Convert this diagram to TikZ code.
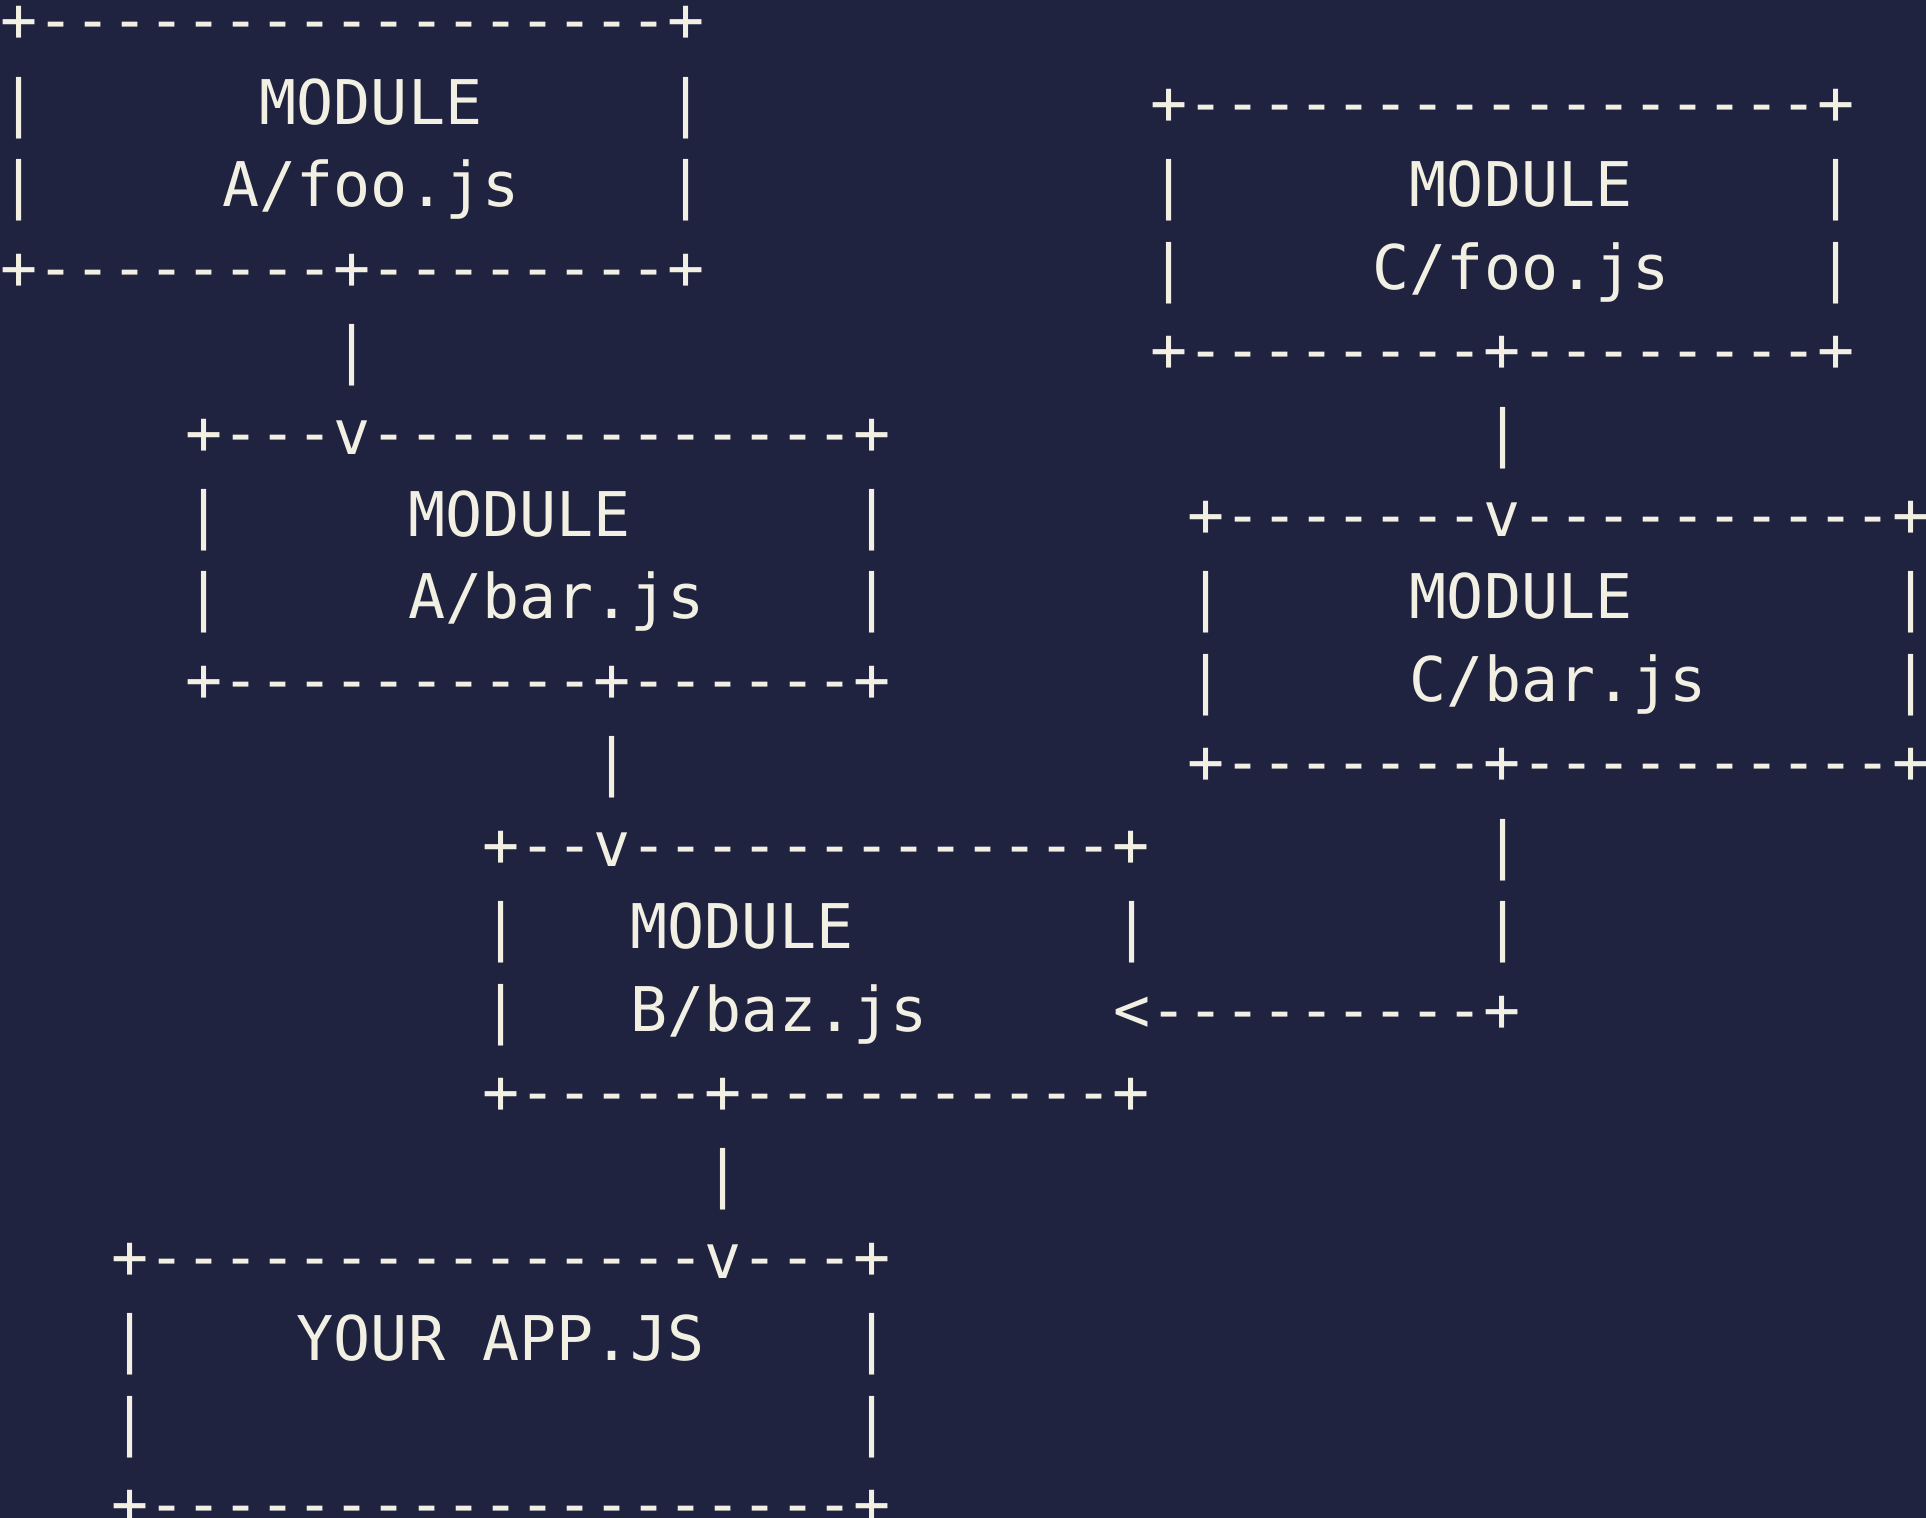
\documentclass[tikz,border=0pt]{standalone}
\usepackage{fontspec}
\newfontfamily\asciifont{DejaVu Sans Mono}[Ligatures=TeXOff]
\definecolor{bgnavy}{HTML}{1F2340}
\definecolor{cream}{HTML}{F2EFE3}
\tikzset{asc/.style={font={\asciifont\fontsize{30.81pt}{36pt}\selectfont},text=cream,inner sep=0pt,outer sep=0pt,anchor=base west}}
\newcommand\seg[4]{\node[asc] (#1) at ({#2*18.55pt},{-20.93pt-#3*41.215pt}) {#4};}
\begin{document}
\begin{tikzpicture}
\useasboundingbox (0,0) rectangle (963pt,-759pt);
\fill[bgnavy] (0,0) rectangle (963pt,-759pt);
% Module A/foo.js
\seg{afooT}{0}{0}{+-----------------+}
\seg{afooL1}{0}{1}{|}
\seg{afooM}{7}{1}{MODULE}
\seg{afooR1}{18}{1}{|}
\seg{afooL2}{0}{2}{|}
\seg{afooN}{6}{2}{A/foo.js}
\seg{afooR2}{18}{2}{|}
\seg{afooB}{0}{3}{+--------+--------+}
\seg{afooV}{9}{4}{|}
% Module C/foo.js
\seg{cfooT}{31}{1}{+-----------------+}
\seg{cfooL1}{31}{2}{|}
\seg{cfooM}{38}{2}{MODULE}
\seg{cfooR1}{49}{2}{|}
\seg{cfooL2}{31}{3}{|}
\seg{cfooN}{37}{3}{C/foo.js}
\seg{cfooR2}{49}{3}{|}
\seg{cfooB}{31}{4}{+--------+--------+}
\seg{cfooV}{40}{5}{|}
% Module A/bar.js
\seg{abarT}{5}{5}{+---v-------------+}
\seg{abarL1}{5}{6}{|}
\seg{abarM}{11}{6}{MODULE}
\seg{abarR1}{23}{6}{|}
\seg{abarL2}{5}{7}{|}
\seg{abarN}{11}{7}{A/bar.js}
\seg{abarR2}{23}{7}{|}
\seg{abarB}{5}{8}{+----------+------+}
\seg{abarV}{16}{9}{|}
% Module C/bar.js
\seg{cbarT}{32}{6}{+-------v----------+}
\seg{cbarL1}{32}{7}{|}
\seg{cbarM}{38}{7}{MODULE}
\seg{cbarR1}{51}{7}{|}
\seg{cbarL2}{32}{8}{|}
\seg{cbarN}{38}{8}{C/bar.js}
\seg{cbarR2}{51}{8}{|}
\seg{cbarB}{32}{9}{+-------+----------+}
\seg{cbarV1}{40}{10}{|}
\seg{cbarV2}{40}{11}{|}
% Module B/baz.js
\seg{bbazT}{13}{10}{+--v-------------+}
\seg{bbazL1}{13}{11}{|}
\seg{bbazM}{17}{11}{MODULE}
\seg{bbazR1}{30}{11}{|}
\seg{bbazL2}{13}{12}{|}
\seg{bbazN}{17}{12}{B/baz.js}
\seg{bbazArrow}{30}{12}{<---------+}
\seg{bbazB}{13}{13}{+-----+----------+}
\seg{bbazV}{19}{14}{|}
% Your app
\seg{appT}{3}{15}{+---------------v---+}
\seg{appL1}{3}{16}{|}
\seg{appN1}{8}{16}{YOUR}
\seg{appN2}{13}{16}{APP.JS}
\seg{appR1}{23}{16}{|}
\seg{appL2}{3}{17}{|}
\seg{appR2}{23}{17}{|}
\seg{appB}{3}{18}{+-------------------+}
\end{tikzpicture}
\end{document}
